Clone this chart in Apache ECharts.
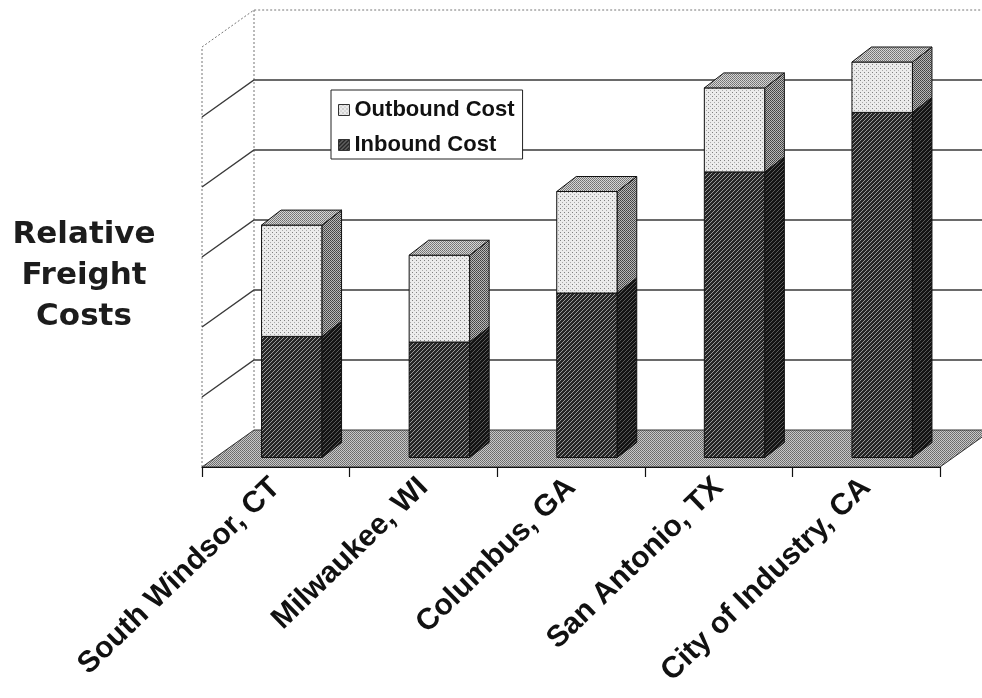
<!DOCTYPE html>
<html>
<head>
<meta charset="utf-8">
<script src="https://cdn.jsdelivr.net/npm/echarts@6/dist/echarts.min.js"></script>
<style>
  html, body { margin: 0; padding: 0; background: #fff; }
  #chart { width: 982px; height: 698px; }
</style>
</head>
<body>
<div id="chart"></div>
<script>
// Freight cost comparison by facility location
const categories = ['South Windsor, CT', 'Milwaukee, WI', 'Columbus, GA', 'San Antonio, TX', 'City of Industry, CA'];
const inboundCost = [1.73, 1.65, 2.35, 4.08, 4.93];
const outboundCost = [1.59, 1.24, 1.45, 1.20, 0.72];
const valueTicks = [0, 1, 2, 3, 4, 5, 6];

// Oblique projection of the chart box (pixels)
const WALL_DX = 52, WALL_DY = -37;       // front plane -> back wall
const BAR_DX = 16, BAR_DY = -9.5;         // front plane -> bar front face
const BAR_DEPTH_DX = 19.5, BAR_DEPTH_DY = -15; // bar front face -> bar back face
const BAR_RATIO = 0.41;

function makePattern(w, h, draw) {
  const c = document.createElement('canvas');
  c.width = w; c.height = h;
  const ctx = c.getContext('2d');
  draw(ctx);
  return { image: c, repeat: 'repeat' };
}
function px(ctx, x, y, col) { ctx.fillStyle = col; ctx.fillRect(x, y, 1, 1); }

const outFront = makePattern(4, 4, ctx => {
  ctx.fillStyle = '#ebebeb'; ctx.fillRect(0, 0, 4, 4);
  px(ctx, 0, 0, '#808080'); px(ctx, 2, 2, '#a8a8a8');
});
const outSide = makePattern(2, 2, ctx => {
  ctx.fillStyle = '#b8b8b8'; ctx.fillRect(0, 0, 2, 2);
  px(ctx, 0, 0, '#404040'); px(ctx, 1, 1, '#505050');
});
const outTop = makePattern(2, 2, ctx => {
  ctx.fillStyle = '#d6d6d6'; ctx.fillRect(0, 0, 2, 2);
  px(ctx, 0, 0, '#707070'); px(ctx, 1, 1, '#808080');
});
const inFront = makePattern(4, 4, ctx => {
  for (let y = 0; y < 4; y++) for (let x = 0; x < 4; x++) {
    px(ctx, x, y, ((x + y) % 4 === 0) ? '#9a9a9a' : '#262626');
  }
});
const inSide = makePattern(4, 4, ctx => {
  for (let y = 0; y < 4; y++) for (let x = 0; x < 4; x++) {
    px(ctx, x, y, ((x + y) % 4 === 0) ? '#5a5a5a' : '#141414');
  }
});
const floorFill = makePattern(2, 2, ctx => {
  ctx.fillStyle = '#c8c8c8'; ctx.fillRect(0, 0, 2, 2);
  px(ctx, 0, 0, '#686868'); px(ctx, 1, 1, '#747474');
});

const inboundData = categories.map((c, i) => [i, 0, inboundCost[i]]);
const outboundData = categories.map((c, i) => [i, inboundCost[i], inboundCost[i] + outboundCost[i]]);

function barRenderer(front, side, withTop) {
  return function (params, api) {
    const ci = api.value(0), lo = api.value(1), hi = api.value(2);
    const p0 = api.coord([ci, lo]);
    const p1 = api.coord([ci, hi]);
    const w = api.size([1, 0])[0] * BAR_RATIO;
    const cx = p0[0] + BAR_DX;
    const xl = cx - w / 2, xr = cx + w / 2;
    const yb = p0[1] + BAR_DY, yt = p1[1] + BAR_DY;
    const dx = BAR_DEPTH_DX, dy = BAR_DEPTH_DY;
    const stroke = { stroke: '#111', lineWidth: 1, lineJoin: 'round' };
    const children = [
      { type: 'polygon', shape: { points: [[xl, yb], [xr, yb], [xr, yt], [xl, yt]] },
        style: Object.assign({ fill: front }, stroke) },
      { type: 'polygon', shape: { points: [[xr, yb], [xr + dx, yb + dy], [xr + dx, yt + dy], [xr, yt]] },
        style: Object.assign({ fill: side }, stroke) }
    ];
    if (withTop) {
      children.push({ type: 'polygon',
        shape: { points: [[xl, yt], [xr, yt], [xr + dx, yt + dy], [xl + dx, yt + dy]] },
        style: Object.assign({ fill: outTop }, stroke) });
    }
    return { type: 'group', children };
  };
}

// Walls, gridlines and floor of the 3D box
function frameRenderer(params, api) {
  const cs = params.coordSys;
  const x0 = cs.x, x1 = cs.x + cs.width;
  const yFloor = api.coord([0, valueTicks[0]])[1];
  const yTop = api.coord([0, valueTicks[valueTicks.length - 1]])[1];
  const dotted = { stroke: '#777', lineWidth: 1, lineDash: [2, 2], fill: null };
  const children = [];
  // back wall and left wall outlines
  children.push({ type: 'polyline', shape: { points: [[x0, yFloor], [x0, yTop], [x0 + WALL_DX, yTop + WALL_DY], [x1 + WALL_DX, yTop + WALL_DY]] }, style: dotted });
  children.push({ type: 'line', shape: { x1: x0 + WALL_DX, y1: yTop + WALL_DY, x2: x0 + WALL_DX, y2: yFloor + WALL_DY }, style: dotted });
  // gridlines
  valueTicks.slice(1, -1).forEach(v => {
    const y = api.coord([0, v])[1];
    children.push({ type: 'polyline',
      shape: { points: [[x0, y], [x0 + WALL_DX, y + WALL_DY], [x1 + WALL_DX, y + WALL_DY]] },
      style: { stroke: '#3a3a3a', lineWidth: 1.4, fill: null } });
  });
  // floor
  children.push({ type: 'polygon',
    shape: { points: [[x0, yFloor], [x1, yFloor], [x1 + WALL_DX, yFloor + WALL_DY], [x0 + WALL_DX, yFloor + WALL_DY]] },
    style: { fill: floorFill, stroke: '#333', lineWidth: 1 } });
  return { type: 'group', children };
}

const chart = echarts.init(document.getElementById('chart'), null, { renderer: 'canvas' });
chart.setOption({
  animation: false,
  backgroundColor: '#fff',
  title: {
    text: 'Relative\nFreight\nCosts',
    left: 79, top: 209, textAlign: 'center',
    textStyle: { fontFamily: 'DejaVu Sans', fontWeight: 'bold', fontSize: 31, lineHeight: 41, color: '#1c1c1c' }
  },
  legend: {
    orient: 'vertical',
    left: 331, top: 90,
    selectedMode: false,
    backgroundColor: '#fff',
    borderColor: '#222', borderWidth: 1,
    padding: [9, 8, 3, 7],
    itemGap: 13,
    itemWidth: 11, itemHeight: 11,
    textStyle: { fontFamily: 'Liberation Sans', fontWeight: 'bold', fontSize: 22, color: '#111' },
    data: [
      { name: 'Outbound Cost', icon: 'rect', itemStyle: { color: outFront, borderColor: '#333', borderWidth: 1 } },
      { name: 'Inbound Cost', icon: 'rect', itemStyle: { color: inFront, borderColor: '#333', borderWidth: 1 } }
    ],
    z: 20
  },
  grid: { left: 202, top: 47, width: 738, height: 420 },
  xAxis: {
    type: 'category',
    data: categories,
    boundaryGap: true,
    axisLine: { show: true, lineStyle: { color: '#111', width: 1.2 } },
    axisTick: { show: true, length: 10, lineStyle: { color: '#111', width: 1.2 } },
    axisLabel: {
      rotate: 44, margin: 16, interval: 0,
      fontFamily: 'Liberation Sans', fontWeight: 'bold', fontSize: 30, color: '#111'
    },
    splitLine: { show: false },
    z: 10
  },
  yAxis: {
    type: 'value', min: 0, max: 6, interval: 1,
    axisLine: { show: false }, axisTick: { show: false },
    axisLabel: { show: false }, splitLine: { show: false }
  },
  series: [
    { type: 'custom', name: 'frame', renderItem: frameRenderer, data: [[0, 0, 0]], z: 1, silent: true, clip: false },
    { type: 'custom', name: 'Inbound Cost', renderItem: barRenderer(inFront, inSide, false),
      data: inboundData, encode: { x: 0, y: [1, 2] }, itemStyle: { color: inFront }, z: 3, clip: false },
    { type: 'custom', name: 'Outbound Cost', renderItem: barRenderer(outFront, outSide, true),
      data: outboundData, encode: { x: 0, y: [1, 2] }, itemStyle: { color: outFront }, z: 4, clip: false }
  ]
});
</script>
</body>
</html>
